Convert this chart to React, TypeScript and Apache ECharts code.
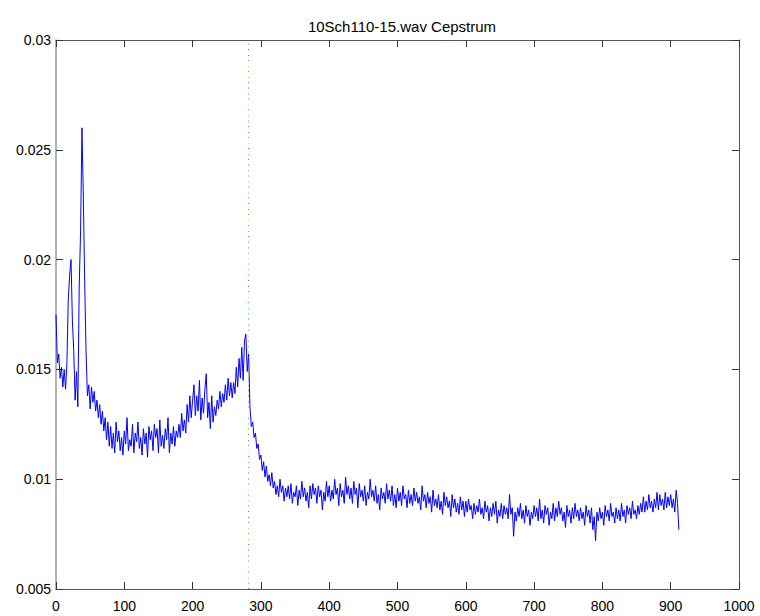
import React, { useEffect, useRef } from "react";
import * as echarts from "echarts";

const TITLE = "10Sch110-15.wav Cepstrum";
const X_STEP = 2; // quefrency spacing between listed samples
const X_TICKS = [0, 100, 200, 300, 400, 500, 600, 700, 800, 900, 1000];
const Y_TICKS = ["0.005", "0.01", "0.015", "0.02", "0.025", "0.03"];
const MARKER_X = 281;
const MARKER_COLORS = ["#3c9a3c", "#6a6aff", "#8a8a8a", "#dede3a", "#e050e0", "#40dede", "#ff5a5a"];

// cepstrum values at quefrency 0, 2, 4, ... 912
const cepstrum = [
  0.0175, 0.0153, 0.0157, 0.0146, 0.0151, 0.0142, 0.015, 0.0141, 0.0153, 0.0182,
  0.0193, 0.02, 0.0172, 0.0158, 0.0136, 0.0149, 0.0133, 0.0188, 0.0213, 0.026,
  0.0229, 0.019, 0.0158, 0.0138, 0.0143, 0.0132, 0.0142, 0.0135, 0.014, 0.0131,
  0.0136, 0.0128, 0.0134, 0.0125, 0.0131, 0.0122, 0.0128, 0.0118, 0.0126, 0.0115,
  0.0124, 0.0114, 0.0121, 0.0112, 0.0126, 0.0117, 0.0122, 0.0113, 0.0119, 0.0111,
  0.0122, 0.0116, 0.0128, 0.0113, 0.0118, 0.0115, 0.0125, 0.0112, 0.0121, 0.0117,
  0.0126, 0.0114, 0.0119, 0.0111, 0.0123, 0.0116, 0.0121, 0.011, 0.0124, 0.0118,
  0.0122, 0.0113, 0.0125, 0.0119, 0.0123, 0.0112, 0.0127, 0.0115, 0.012, 0.0114,
  0.0123, 0.0118, 0.0128, 0.0112, 0.0121, 0.0116, 0.0124, 0.0115, 0.0122, 0.0119,
  0.0125, 0.0119, 0.013, 0.0122, 0.0127, 0.0121, 0.0134, 0.0126, 0.0138, 0.0128,
  0.0136, 0.0143, 0.0129, 0.0138, 0.0131, 0.0145, 0.0127, 0.0137, 0.013, 0.0141,
  0.0148, 0.0128, 0.0135, 0.0123, 0.0138, 0.0126, 0.0133, 0.0129, 0.0136, 0.0132,
  0.014, 0.0133, 0.0139, 0.0135, 0.0143, 0.0136, 0.0146, 0.0138, 0.0144, 0.0137,
  0.0144, 0.0139, 0.0151, 0.0142, 0.0155, 0.0146, 0.016, 0.0145, 0.0163, 0.0166,
  0.0149, 0.0157, 0.0133, 0.0124, 0.0126, 0.0119, 0.0121, 0.0114, 0.0116, 0.0109,
  0.0111, 0.0104, 0.0108, 0.0101, 0.0106, 0.0099, 0.0102, 0.0097, 0.0103, 0.0096,
  0.0099, 0.0093, 0.0097, 0.0092, 0.01, 0.0094, 0.0097, 0.009, 0.0096, 0.0092,
  0.0097, 0.0091, 0.0098, 0.0089, 0.0094, 0.0092, 0.0097, 0.0088, 0.0095, 0.0091,
  0.0099, 0.0092, 0.0096, 0.009, 0.0094, 0.0087, 0.0097, 0.0091, 0.0098, 0.0093,
  0.0096, 0.0089, 0.0097, 0.0092, 0.0095, 0.0086, 0.0094, 0.009, 0.0099, 0.0092,
  0.0097, 0.009, 0.0095, 0.0091, 0.01, 0.0093, 0.0096, 0.0088, 0.0098, 0.0092,
  0.0095, 0.0089, 0.0101, 0.0093, 0.0097, 0.0091, 0.0096, 0.0089, 0.0099, 0.0093,
  0.0096, 0.0087, 0.0098, 0.0092, 0.0095, 0.009, 0.0097, 0.0088, 0.0094, 0.0091,
  0.01, 0.0092, 0.0095, 0.009, 0.0097, 0.0089, 0.0093, 0.0086, 0.0096, 0.0091,
  0.0094, 0.0089, 0.0098, 0.0091, 0.0095, 0.009, 0.0097, 0.0088, 0.0093, 0.0087,
  0.0096, 0.009, 0.0094, 0.0088, 0.0097, 0.0091, 0.0093, 0.0087, 0.0095, 0.0089,
  0.0093, 0.0088, 0.0096, 0.009, 0.0094, 0.0089, 0.0092, 0.0086, 0.0097, 0.009,
  0.0093, 0.0087, 0.0094, 0.0089, 0.0092, 0.0085, 0.0095, 0.0088, 0.0091, 0.0087,
  0.0093, 0.0086, 0.009, 0.0084, 0.0094, 0.0088, 0.0092, 0.0087, 0.009, 0.0083,
  0.0093, 0.0087, 0.0091, 0.0085, 0.0089, 0.0084, 0.0092, 0.0086, 0.009, 0.0083,
  0.009, 0.0085, 0.0091, 0.0086, 0.0088, 0.0082, 0.0089, 0.0084, 0.0088, 0.0085,
  0.0091, 0.0084, 0.0087, 0.0082, 0.009, 0.0085, 0.0088, 0.0081, 0.0087, 0.0083,
  0.0089, 0.0084, 0.009, 0.008, 0.0086, 0.0083, 0.0089, 0.0082, 0.0088, 0.0084,
  0.0087, 0.0082, 0.0093, 0.0084, 0.0087, 0.0074, 0.0085, 0.0081, 0.0087, 0.0083,
  0.0089, 0.0082, 0.0086, 0.008, 0.0088, 0.0083, 0.0086, 0.0079, 0.0085, 0.0082,
  0.0088, 0.0083, 0.0087, 0.0081, 0.0091, 0.0082, 0.0086, 0.008, 0.0088, 0.0084,
  0.0087, 0.0079, 0.0085, 0.0082, 0.0089, 0.0081, 0.0087, 0.0083, 0.009, 0.0084,
  0.0087, 0.0081, 0.0085, 0.0078, 0.0088, 0.0083, 0.0086, 0.008, 0.0087, 0.0082,
  0.0089, 0.0083, 0.0086, 0.0081, 0.0087, 0.0082, 0.0085, 0.0079, 0.0088, 0.0083,
  0.0086, 0.008, 0.0087, 0.0077, 0.0083, 0.0072, 0.0085, 0.0081, 0.0087, 0.0082,
  0.0085, 0.0079, 0.0088, 0.0083, 0.0086, 0.0081, 0.0089, 0.0083, 0.0085, 0.008,
  0.0087, 0.0082, 0.0086, 0.0081, 0.0089, 0.0083, 0.0086, 0.008, 0.0088, 0.0084,
  0.0087, 0.0082, 0.009, 0.0084, 0.0086, 0.0082, 0.0088, 0.0084, 0.0089, 0.0085,
  0.0092, 0.0085, 0.009, 0.0086, 0.0093, 0.0087, 0.009, 0.0085, 0.0091, 0.0087,
  0.0094, 0.0086, 0.0093, 0.0088, 0.0091, 0.0086, 0.0094, 0.0087, 0.0092, 0.0088,
  0.0093, 0.0087, 0.0091, 0.0085, 0.0095, 0.0089, 0.0077,
];

const FONT = "'Liberation Sans', Arial, Helvetica, sans-serif";

export default function App() {
  const ref = useRef<HTMLDivElement>(null);

  useEffect(() => {
    if (!ref.current) return;
    const chart = echarts.init(ref.current, undefined, { renderer: "svg" });
    const data = cepstrum.map((v, i) => [i * X_STEP, v]);
    const yLabel = (v: number) => {
      const idx = Y_TICKS.findIndex((t) => Math.abs(parseFloat(t) - v) < 1e-9);
      return idx >= 0 ? Y_TICKS[idx] : "";
    };
    const xLabel = (v: number) => (X_TICKS.includes(Math.round(v)) ? String(Math.round(v)) : "");
    const darkLine = { color: "#555555", width: 1 };
    const tick = { inside: true, length: 7, lineStyle: { color: "#333333", width: 1 } };

    chart.setOption({
      animation: false,
      backgroundColor: "#ffffff",
      title: {
        text: TITLE,
        left: 397,
        textAlign: "center",
        top: 14,
        textStyle: { fontFamily: FONT, fontSize: 15, fontWeight: "normal", color: "#000" },
      },
      grid: { left: 56, right: 21, top: 40, bottom: 27 },
      xAxis: [
        {
          type: "value",
          position: "bottom",
          min: 0,
          max: 1000,
          interval: 100,
          axisLine: { show: true, onZero: false, lineStyle: darkLine },
          axisTick: tick,
          axisLabel: { color: "#000", fontFamily: FONT, fontSize: 14, margin: 10, formatter: xLabel },
          splitLine: { show: false },
        },
        {
          type: "value",
          position: "top",
          min: 0,
          max: 1000,
          interval: 100,
          axisLine: { show: true, onZero: false, lineStyle: darkLine },
          axisTick: tick,
          axisLabel: { show: false },
          splitLine: { show: false },
        },
      ],
      yAxis: [
        {
          type: "value",
          position: "left",
          min: 0.005,
          max: 0.03,
          interval: 0.005,
          axisLine: { show: true, onZero: false, lineStyle: { color: "#9a9a9a", width: 1.5 } },
          axisTick: tick,
          axisLabel: {
            color: "#000",
            fontFamily: FONT,
            fontSize: 14,
            margin: 5,
            padding: [6, 0, 0, 0],
            formatter: yLabel,
          },
          splitLine: { show: false },
        },
        {
          type: "value",
          position: "right",
          min: 0.005,
          max: 0.03,
          interval: 0.005,
          axisLine: { show: true, onZero: false, lineStyle: darkLine },
          axisTick: tick,
          axisLabel: { show: false },
          splitLine: { show: false },
        },
      ],
      series: [
        {
          type: "line",
          xAxisIndex: 0,
          yAxisIndex: 0,
          data,
          showSymbol: false,
          symbol: "none",
          lineStyle: { color: "#0000ff", width: 1 },
          emphasis: { disabled: true },
          silent: true,
          markLine: {
            silent: true,
            symbol: ["none", "none"],
            label: { show: false },
            emphasis: { disabled: true },
            data: MARKER_COLORS.map((c, k) => ({
              xAxis: MARKER_X,
              lineStyle: { color: c, width: 1, type: [1, 37.5], dashOffset: k * 5.5 },
            })),
          },
        },
      ],
    });
    return () => chart.dispose();
  }, []);

  return (
    <div
      ref={ref}
      style={{ position: "fixed", left: 0, top: 0, width: 760, height: 616, background: "#fff" }}
    />
  );
}
